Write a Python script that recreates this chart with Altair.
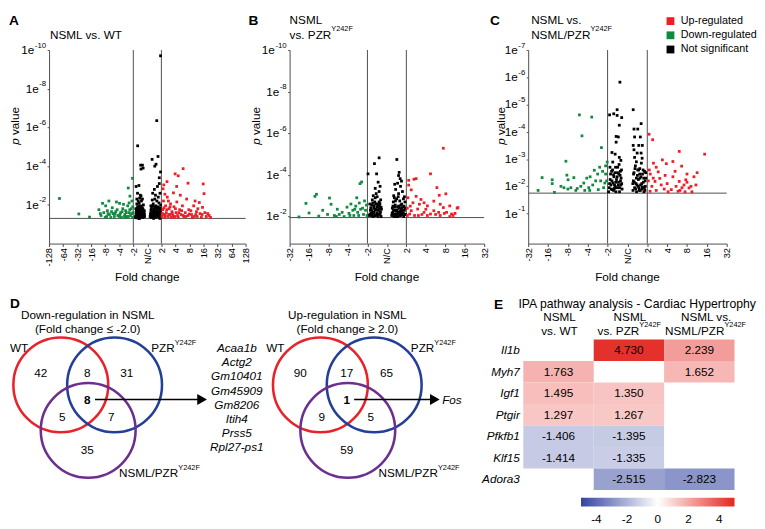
import altair as alt
import pandas as pd

FONT = "Liberation Sans"
RED, GREEN, BLACK, LINE = "#ec1f26", "#108a3f", "#000000", "#4d4d4d"
CATS = ["Up-regulated", "Down-regulated", "Not significant"]

# ---------------- volcano data: (log2 fold change, -log10 p) ----------------
A_down = [(-6.26,2.33),(-4.88,1.53),(-4.12,1.37),(-3.45,1.75),(-3.3,1.45),(-3.19,2.08),(-3.1,1.6),(-2.97,1.95),
          (-2.9,1.4),(-2.85,1.7),(-2.74,2.2),(-2.7,1.5),(-2.6,1.35),(-2.5,1.85),(-2.45,1.55),(-2.35,1.4),(-2.25,1.65),
          (-2.2,2.15),(-2.1,1.45),(-1.98,2.08),(-1.9,1.6),(-1.85,1.35),(-1.75,1.8),(-1.7,2.03),(-1.6,1.5),(-1.55,1.7),
          (-1.45,1.4),(-1.4,1.95),(-1.36,2.87),(-1.3,1.6),(-1.24,2.45),(-1.2,1.45),(-1.15,1.8),(-1.1,2.2),(-1.06,3.37),
          (-1.05,1.35),(-1.02,1.6),(-1.3,2.1),(-1.5,1.35),(-2.0,1.4),
          (-3.35,1.55),(-3.0,1.35),(-2.8,1.55),(-2.55,1.65),(-2.3,1.55),(-2.15,1.75),(-1.95,1.5),(-1.8,1.65),
          (-1.65,1.4),(-1.5,1.6),(-1.35,1.4),(-1.25,1.75),(-1.12,1.55),(-1.04,1.9)]
A_ns = [(0.94,9.7),(0.67,6.35),(-0.69,5.05),(-0.48,4.05),(-0.35,4.05),(-0.45,3.85),(-0.3,3.9),(0.76,4.5),(0.34,4.35),
        (0.53,4.0),(0.62,4.1),(0.94,3.7),(0.85,3.4),(0.85,3.1),(0.72,2.95),(0.5,2.8),(0.38,2.6),(0.9,2.6),(-0.8,2.95),
        (-0.6,3.0),(-0.7,2.6),(-0.5,2.5),(-0.75,2.3),(-0.55,2.35),
        (-0.85,1.35),(-0.8,1.5),(-0.78,1.7),(-0.72,1.4),(-0.7,1.9),(-0.66,1.55),(-0.62,1.35),(-0.6,1.75),(-0.58,2.1),
        (-0.55,1.45),(-0.52,1.6),(-0.5,1.95),(-0.48,1.35),(-0.45,1.75),(-0.42,2.2),(-0.4,1.5),(-0.38,1.4),(-0.35,1.85),
        (-0.32,1.6),(-0.3,1.35),(-0.28,2.0),(-0.25,1.5),(-0.22,1.7),(-0.2,1.4),(-0.65,2.2),(-0.75,2.05),(-0.45,2.45),
        (-0.35,2.3),(-0.82,1.8),(-0.68,1.45),(-0.56,1.3),(-0.4,1.65),
        (-0.83,1.42),(-0.79,1.62),(-0.76,1.33),(-0.73,1.78),(-0.71,1.55),(-0.67,1.68),(-0.64,1.45),(-0.61,1.95),
        (-0.57,1.62),(-0.54,1.82),(-0.51,1.38),(-0.47,1.52),(-0.44,1.92),(-0.41,1.42),(-0.37,1.62),(-0.34,1.48),
        (-0.31,1.78),(-0.27,1.42),(-0.24,1.62),(-0.21,1.52),(-0.6,1.3),(-0.46,1.65),
        (0.2,1.4),(0.24,1.6),(0.27,1.35),(0.3,1.85),(0.33,1.5),(0.36,1.7),(0.4,1.35),(0.42,2.05),(0.45,1.55),(0.48,1.8),
        (0.5,1.4),(0.53,2.3),(0.56,1.6),(0.6,1.95),(0.62,1.35),(0.65,1.75),(0.68,2.2),(0.7,1.5),(0.73,1.4),(0.76,1.9),
        (0.8,1.6),(0.83,2.1),(0.86,1.35),(0.88,1.75),(0.92,1.5),(0.95,2.0),(0.97,1.4),(0.35,2.25),(0.58,2.5),(0.78,2.4),
        (0.45,1.3),(0.66,1.45),(0.9,1.3),(0.25,1.95),
        (0.22,1.5),(0.26,1.75),(0.29,1.42),(0.32,1.62),(0.35,1.38),(0.38,1.95),(0.41,1.58),(0.44,1.42),(0.47,1.68),
        (0.51,1.55),(0.54,1.9),(0.57,1.42),(0.61,1.65),(0.64,1.5),(0.67,1.85),(0.71,1.62),(0.74,1.78),(0.78,1.45),
        (0.81,1.82),(0.84,1.52),(0.87,1.62),(0.91,1.85),(0.94,1.62),(0.96,1.75)]
A_up = [(2.55,3.87),(1.98,3.6),(2.2,3.5),(1.4,3.2),(1.17,3.03),(2.9,3.12),(3.98,3.08),(4.04,2.58),(2.09,2.95),(1.86,2.62),
        (1.12,2.83),(3.7,2.12),(4.4,1.45),(3.0,1.53),(3.93,1.87),(1.05,1.4),(1.1,1.75),(1.15,2.2),(1.2,1.5),(1.25,1.35),
        (1.3,1.95),(1.35,1.6),(1.42,2.4),(1.48,1.4),(1.55,1.8),(1.6,1.5),(1.65,2.05),(1.7,1.35),(1.75,1.65),(1.82,1.45),
        (1.9,1.9),(1.95,1.4),(2.05,1.6),(2.1,2.15),(2.2,1.35),(2.3,1.75),(2.4,1.5),(2.5,1.95),(2.6,1.4),(2.7,1.6),
        (2.8,2.3),(2.9,1.45),(3.1,1.7),(3.2,1.35),(3.3,1.95),(3.45,1.5),(3.55,1.4),(3.6,1.8),(3.75,1.55),(3.85,1.35),
        (4.1,1.6),(4.2,1.4),(4.5,1.35),(1.25,2.55),(2.35,2.5),(1.5,2.2),(3.4,2.2),
        (1.08,1.55),(1.18,1.85),(1.28,1.45),(1.38,1.75),(1.52,1.5),(1.62,1.9),(1.78,1.55),(1.88,1.35),(2.0,1.8),
        (2.15,1.45),(2.25,1.6),(2.45,1.7),(2.55,1.45),(2.75,1.4),(2.95,1.75),(3.15,1.5),(3.35,1.4),(3.5,1.65),
        (3.9,1.5),(4.3,1.55)]

B_down = [(-4.52,1.98),(-4.16,2.63),(-4.0,2.17),(-3.7,2.97),(-3.62,3.07),(-3.3,2.3),(-3.05,2.1),(-2.95,2.89),(-2.87,2.59),
          (-2.7,2.05),(-2.55,2.35),(-2.45,2.1),(-2.3,2.2),(-2.2,2.0),(-2.05,2.45),(-1.95,2.15),(-1.85,2.6),(-1.75,2.3),
          (-1.7,2.05),(-1.6,2.5),(-1.55,2.9),(-1.5,2.2),(-1.42,2.65),(-1.38,3.58),(-1.3,3.66),(-1.25,2.4),(-1.2,2.1),
          (-1.15,2.75),(-1.1,2.3),(-1.05,2.55),(-1.02,2.05),(-1.45,2.05),(-1.9,2.05),(-2.6,2.0),(-3.5,2.02),(-1.35,2.35),
          (-1.65,2.35)]
B_ns = [(-0.4,4.82),(-0.64,4.54),(-0.97,4.05),(-0.53,4.05),(0.51,4.74),(0.63,4.12),(0.6,3.97),(0.68,3.82),(-0.45,3.65),
        (-0.6,3.35),(-0.4,3.2),(-0.7,3.0),(-0.5,2.95),(0.55,3.6),(0.7,3.45),(0.45,3.3),(0.8,3.2),(0.6,3.1),(0.35,3.0),
        (0.9,2.95),(-0.35,3.45),(-0.55,3.1),(0.75,3.7),(0.4,3.55),
        (-0.9,2.05),(-0.85,2.3),(-0.8,2.15),(-0.78,2.55),(-0.72,2.0),(-0.68,2.4),(-0.65,2.2),(-0.62,2.7),(-0.58,2.05),
        (-0.55,2.35),(-0.5,2.15),(-0.48,2.6),(-0.45,2.0),(-0.42,2.3),(-0.38,2.5),(-0.35,2.1),(-0.32,2.8),(-0.3,2.0),
        (-0.28,2.35),(-0.75,2.8),(-0.6,2.9),(-0.4,2.7),(-0.88,2.6),(-0.52,2.45),
        (-0.87,2.12),(-0.83,2.42),(-0.79,2.05),(-0.76,2.28),(-0.73,2.65),(-0.7,2.15),(-0.67,2.52),(-0.63,2.05),
        (-0.6,2.32),(-0.57,2.6),(-0.53,2.08),(-0.49,2.3),(-0.46,2.5),(-0.43,2.12),(-0.39,2.38),(-0.36,2.62),
        (-0.33,2.22),(-0.3,2.45),
        (0.25,2.05),(0.28,2.4),(0.3,2.2),(0.33,2.7),(0.36,2.0),(0.4,2.3),(0.43,2.55),(0.46,2.1),(0.5,2.85),(0.53,2.3),
        (0.56,2.0),(0.6,2.5),(0.63,2.15),(0.66,2.75),(0.7,2.05),(0.73,2.35),(0.76,2.6),(0.8,2.1),(0.83,2.45),(0.86,2.0),
        (0.9,2.3),(0.93,2.7),(0.96,2.1),(0.38,2.9),(0.58,2.95),(0.85,2.85),(0.48,2.0),(0.72,2.55),
        (0.27,2.15),(0.31,2.5),(0.34,2.3),(0.38,2.12),(0.41,2.45),(0.44,2.75),(0.48,2.25),(0.51,2.12),(0.55,2.45),
        (0.58,2.2),(0.62,2.4),(0.65,2.05),(0.69,2.25),(0.72,2.15),(0.75,2.42),(0.78,2.25),(0.82,2.3),(0.85,2.15),
        (0.88,2.5),(0.92,2.1),(0.95,2.4)]
B_up = [(2.9,5.28),(2.24,4.05),(1.39,3.79),(1.12,3.74),(1.12,3.51),(2.57,3.39),(3.03,3.09),(2.69,3.02),(1.5,3.82),
        (1.25,3.28),(1.5,2.97),(1.75,2.82),(1.34,2.66),(1.67,2.59),(1.91,2.66),(2.08,2.51),(2.41,2.74),(2.74,2.59),
        (3.23,2.51),(3.61,2.4),(2.9,2.43),(3.07,2.2),(2.66,2.2),(2.41,2.28),(2.24,2.12),(1.91,2.2),(1.58,2.36),(1.25,2.28),
        (1.17,2.12),(1.42,2.05),(2.08,2.05),(2.74,2.05),(3.23,2.0),(3.4,2.05),(3.65,2.43),(3.32,2.12),(1.05,2.4),(1.08,2.9),
        (1.2,2.5),(1.8,2.1),(2.0,2.35),(2.5,2.1),(2.95,2.15),(3.5,2.15),(1.62,2.05),(1.05,2.05)]

C_down = [(-2.42,4.62),(-1.8,4.54),(-2.29,3.85),(-1.31,3.42),(-3.1,2.92),(-4.3,2.32),(-3.79,2.24),(-3.79,2.1),(-4.5,1.85),
          (-3.68,1.78),(-3.05,2.41),(-2.99,2.24),(-1.67,2.59),(-1.02,2.89),(-1.88,2.35),(-2.7,2.32),(-3.35,2.0),(-2.53,1.92),
          (-1.47,1.88),(-1.14,2.12),(-3.2,1.95),(-3.0,1.9),(-2.85,1.95),(-2.6,1.85),(-2.35,2.0),(-2.2,2.12),(-2.05,2.3),
          (-1.95,1.95),(-1.75,2.05),(-1.6,2.2),(-1.5,2.45),(-1.35,2.2),(-1.25,2.55),(-1.1,2.45),(-1.2,1.95),(-1.05,2.2),
          (-2.15,1.85),(-1.9,1.85),(-1.4,2.7),(-1.1,2.75)]
C_ns = [(-0.38,5.82),(-0.9,4.62),(-0.69,4.66),(-0.52,4.81),(-0.52,4.6),(-0.29,4.52),(-0.41,4.24),(0.29,4.81),(0.69,4.3),
        (0.33,4.1),(0.52,4.1),(-0.57,3.83),(-0.46,3.81),(-0.57,3.62),(-0.78,3.24),(-0.62,3.18),(-0.41,3.06),(-0.33,2.95),
        (-0.74,2.89),(0.36,3.81),(0.65,3.81),(0.29,3.5),(0.57,3.5),(0.75,3.5),(0.33,3.34),(0.49,3.22),(0.69,3.22),
        (0.36,3.06),(0.74,3.03),
        (-0.95,1.8),(-0.9,2.1),(-0.85,2.45),(-0.82,1.9),(-0.78,2.2),(-0.75,2.6),(-0.7,1.85),(-0.68,2.35),(-0.65,2.05),
        (-0.6,2.7),(-0.58,1.8),(-0.55,2.25),(-0.5,2.5),(-0.48,1.95),(-0.45,2.15),(-0.42,2.8),(-0.4,1.8),(-0.37,2.4),
        (-0.33,2.05),(-0.3,2.6),(-0.27,1.9),(-0.88,2.7),(-0.62,2.0),(-0.35,2.2),
        (-0.92,1.95),(-0.87,2.25),(-0.83,2.05),(-0.8,2.55),(-0.77,1.88),(-0.73,2.12),(-0.7,2.42),(-0.66,1.92),
        (-0.63,2.5),(-0.59,2.15),(-0.56,1.95),(-0.52,2.35),(-0.49,2.7),(-0.46,2.05),(-0.43,2.45),(-0.39,1.95),
        (-0.36,2.55),(-0.32,2.3),(-0.29,2.1),
        (0.28,1.85),(0.3,2.2),(0.33,2.5),(0.36,1.95),(0.4,2.75),(0.43,2.1),(0.46,1.8),(0.5,2.4),(0.53,2.0),(0.56,2.6),
        (0.6,1.85),(0.63,2.3),(0.66,2.05),(0.7,2.85),(0.73,1.9),(0.76,2.45),(0.8,2.15),(0.83,1.8),(0.86,2.55),(0.9,2.0),
        (0.93,2.3),(0.45,2.9),(0.62,2.65),(0.88,1.85),
        (0.27,2.1),(0.31,2.45),(0.35,2.15),(0.38,2.65),(0.42,1.9),(0.45,2.3),(0.48,2.05),(0.52,2.6),(0.55,2.25),
        (0.58,1.95),(0.62,2.45),(0.65,1.85),(0.68,2.35),(0.72,2.1),(0.75,1.98),(0.79,2.6),(0.82,2.3),(0.85,1.95),
        (0.89,2.2),(0.92,2.5)]
C_up = [(1.09,3.91),(1.27,3.71),(2.61,3.28),(3.89,3.18),(1.76,2.97),(2.29,2.91),(1.31,2.85),(1.96,2.83),(2.73,2.74),
        (1.55,2.53),(1.63,2.29),(1.39,2.18),(1.23,2.0),(2.29,2.35),(2.94,2.24),(3.35,2.35),(3.51,2.5),(2.61,2.18),
        (2.45,2.0),(3.1,1.94),(2.21,1.88),(1.14,1.82),(1.05,2.2),(1.15,2.45),(1.45,1.85),(1.7,2.05),(1.85,1.9),(2.0,2.1),
        (2.75,1.95),(2.85,2.05),(3.0,2.15),(3.2,2.0),(3.25,1.8),(3.45,2.05),(2.55,1.82),(2.05,1.8),(1.3,2.3),(1.9,2.4),
        (2.4,2.55),(3.0,2.45),(1.1,2.6),(1.45,2.7),(2.65,1.85),(2.9,1.8)]

SIG_LINE = {"A": 1.3, "B": 1.95, "C": 1.75}

# ---------------- Venn data ----------------
DOWN_COUNTS = [42, 8, 31, 8, 5, 7, 35]     # WT, WT&PZR, PZR, all, WT&NP, PZR&NP, NP
UP_COUNTS = [90, 17, 65, 1, 9, 5, 59]
COMMON_DOWN = ["Acaa1b", "Actg2", "Gm10401", "Gm45909", "Gm8206", "Itih4", "Prss5", "Rpl27-ps1"]
COMMON_UP = ["Fos"]

# ---------------- heatmap data ----------------
GENES = ["Il1b", "Myh7", "Igf1", "Ptgir", "Pfkfb1", "Klf15", "Adora3"]
COMPS = ["NSML vs. WT", "NSML vs. PZR", "NSML vs. NSML/PZR"]
VALS = [[None, 4.730, 2.239],
        [1.763, None, 1.652],
        [1.495, 1.350, None],
        [1.297, 1.267, None],
        [-1.406, -1.395, None],
        [-1.414, -1.335, None],
        [None, -2.515, -2.823]]

# ---------------- helpers ----------------
AW = {' ': .278, '.': .278, '/': .278, '-': .333, '(': .333, ')': .333,
      'A': .667, 'B': .667, 'C': .722, 'D': .722, 'E': .667, 'F': .611, 'G': .778, 'H': .722, 'I': .278,
      'L': .556, 'M': .833, 'N': .722, 'P': .667, 'R': .722, 'S': .667, 'T': .611, 'W': .944, 'Y': .667, 'Z': .611,
      'a': .556, 'b': .556, 'c': .5, 'd': .556, 'e': .556, 'f': .278, 'g': .556, 'h': .556, 'i': .222, 'l': .222,
      'm': .833, 'n': .556, 'o': .556, 'p': .556, 'r': .333, 's': .5, 't': .278, 'u': .556, 'v': .5, 'w': .722, 'y': .5}


def tw(s, size=12):
    return sum(AW.get(c, 0.556) for c in s) * size


def T(text, x, y, size=12, weight="normal", style="normal", align="left", angle=0):
    return alt.Chart(pd.DataFrame({"t": [text]})).mark_text(
        align=align, baseline="middle", fontSize=size, fontWeight=weight, fontStyle=style,
        angle=angle, font=FONT, color="black").encode(x=alt.value(x), y=alt.value(y), text="t:N")


XLAB = "datum.value == 0 ? 'N/C' : (datum.value < 0 ? '-' : '') + pow(2, abs(datum.value))"


def ytick_layers(ticks, Y):
    sups = ["-" + str(t) for t in ticks]
    layers = [alt.Chart(pd.DataFrame({"nlp": ticks, "s": sups})).mark_text(
        align="right", baseline="middle", fontSize=8, dy=-4.5, font=FONT, color="black").encode(
        x=alt.value(-3), y=Y, text="s:N")]
    widths = sorted(set(round(tw(s, 8), 1) for s in sups))
    for w in widths:
        sub = [t for t, s in zip(ticks, sups) if round(tw(s, 8), 1) == w]
        layers.append(alt.Chart(pd.DataFrame({"nlp": sub, "b": ["1e"] * len(sub)})).mark_text(
            align="right", baseline="middle", fontSize=12, font=FONT, color="black").encode(
            x=alt.value(-3.5 - w), y=Y, text="b:N"))
    return layers


def volcano(down, ns, up, W, H, xmax, ydom, yticks, thr, annos, legend=None):
    df = pd.DataFrame([(x, y, "Down-regulated") for x, y in down] +
                      [(x, y, "Not significant") for x, y in ns] +
                      [(x, y, "Up-regulated") for x, y in up], columns=["lfc", "nlp", "cat"])
    X = alt.X("lfc:Q", scale=alt.Scale(domain=[-xmax, xmax], nice=False, zero=False),
              axis=alt.Axis(values=list(range(-xmax, xmax + 1)), labelExpr=XLAB, labelAngle=270,
                            labelAlign="right", labelBaseline="middle", labelFontSize=9.5, labelPadding=1,
                            labelFlush=False, labelOverlap=False, tickSize=3, tickColor=LINE,
                            domainColor=LINE, grid=False, title=None, labelColor="black", labelFont=FONT))
    Y = alt.Y("nlp:Q", scale=alt.Scale(domain=ydom, nice=False, zero=False),
              axis=alt.Axis(values=yticks, labels=False, tickSize=2, tickColor=LINE,
                            domainColor=LINE, grid=False, title=None))
    pts = alt.Chart(df).mark_square(size=8, opacity=1).encode(
        x=X, y=Y, color=alt.Color("cat:N", scale=alt.Scale(domain=CATS, range=[RED, GREEN, BLACK]), legend=legend))
    vr = alt.Chart(pd.DataFrame({"lfc": [-1, 1]})).mark_rule(color=LINE, strokeWidth=1).encode(x=X)
    hr = alt.Chart(pd.DataFrame({"nlp": [thr]})).mark_rule(color=LINE, strokeWidth=1).encode(y=Y)
    return alt.layer(vr, hr, pts, *ytick_layers(yticks, Y), *annos).properties(width=W, height=H)


def common_annos(letter, lx, pvx, W, H):
    py = 98 * H / 200
    return [T(letter, lx, -29.5, size=14, weight="bold"),
            T("p", pvx, py, style="italic", angle=270),
            T("value", pvx, py - tw("p "), angle=270),
            T("Fold change", W / 2, H + 34, align="center")]


H = 198
WA, WB, WC = 201, 199, 203

A = volcano(A_down, A_ns, A_up, WA, H, 7, [0, 10], [2, 4, 6, 8, 10], SIG_LINE["A"],
            common_annos("A", -41, -34.7, WA, H) + [T("NSML vs. WT", 1, -15)])
B = volcano(B_down, B_ns, B_up, WB, H, 5, [0.7, 10], [2, 4, 6, 8, 10], SIG_LINE["B"],
            common_annos("B", -42, -34, WB, H) +
            [T("NSML", 0, -30.5), T("vs. PZR", 0, -15.5), T("Y242F", tw("vs. PZR"), -21, size=7.5)])
legendC = alt.Legend(orient="none", legendX=140, legendY=-35, title=None, symbolType="square", symbolSize=64,
                     labelFontSize=11, labelFont=FONT, rowPadding=2.5, padding=0, labelOffset=5,
                     symbolStrokeWidth=0, symbolOpacity=1)
C = volcano(C_down, C_ns, C_up, WC, H, 5, [-0.1, 7], [1, 2, 3, 4, 5, 6, 7], SIG_LINE["C"],
            common_annos("C", -39, -28, WC, H) +
            [T("NSML vs.", 3, -30.5), T("NSML/PZR", 3, -15.5), T("Y242F", 3 + tw("NSML/PZR"), -21, size=7.5)],
            legend=legendC)

top = alt.hconcat(A, B, C, spacing=45, bounds="flush").resolve_scale(
    x="independent", y="independent", color="independent")

# ---------------- panel D (Venn canvas, figure coordinates) ----------------
WD, HH = 455, 154
DX0, DY0 = 42, 338
xD = alt.X("x:Q", scale=alt.Scale(domain=[DX0, DX0 + WD], nice=False, zero=False), axis=None)
yD = alt.Y("y:Q", scale=alt.Scale(domain=[DY0, DY0 + HH], nice=False, zero=False, reverse=True), axis=None)

VENN_CX = [81.5, 347]
GENE_LIST_X = 234
CIRCLES = [(-27.5, 384.5, "#e8222a"), (27.5, 384.5, "#233f97"), (0.5, 431, "#6b2f8f")]
REGION_POS = [(-48, 372), (-0.5, 372), (40, 372), (-0.5, 400), (-26, 417), (24, 417), (-0.5, 451)]

circ_df = pd.DataFrame([dict(x=cx + dx, y=y, c=c) for cx in VENN_CX for dx, y, c in CIRCLES])
circles = alt.Chart(circ_df).mark_point(shape="circle", filled=False, size=97 * 97, strokeWidth=2.6,
                                        opacity=1).encode(x=xD, y=yD, color=alt.Color("c:N", scale=None))

arrow_df = pd.DataFrame([dict(x=VENN_CX[0] + 7.5, x2=GENE_LIST_X - 38, y=399.5),
                         dict(x=VENN_CX[1] + 7, x2=VENN_CX[1] + 88, y=399.5)])
arrows = alt.Chart(arrow_df).mark_rule(color="black", strokeWidth=1.6).encode(x=xD, x2="x2:Q", y=yD)
head_df = pd.DataFrame([dict(x=GENE_LIST_X - 35.5, y=399.5), dict(x=VENN_CX[1] + 89.5, y=399.5)])
heads = alt.Chart(head_df).mark_point(shape="triangle-right", filled=True, size=130, color="black",
                                      opacity=1).encode(x=xD, y=yD)

rows = []


def add(x, y, t, s):
    rows.append(dict(x=x, y=y, t=t, s=s))


add(2, 301.5, "D", "L")
add(497, 302.5, "E", "L")
for cx, counts, t1, t2 in [(VENN_CX[0], DOWN_COUNTS, "Down-regulation in NSML", "(Fold change \u2264 -2.0)"),
                           (VENN_CX[1], UP_COUNTS, "Up-regulation in NSML", "(Fold change \u2265 2.0)")]:
    add(cx, 313, t1, "n")
    add(cx, 327, t2, "n")
    for i, ((dx, y), n) in enumerate(zip(REGION_POS, counts)):
        add(cx + dx, y, str(n), "nb" if i == 3 else "n")
    add(max(cx - 83, 2), 347, "WT", "l")
    add(cx + 65, 347, "PZR", "l")
    add(cx + 65 + tw("PZR"), 341.5, "Y242F", "sup")
    add(cx + 32, 475, "NSML/PZR", "l")
    add(cx + 32 + tw("NSML/PZR"), 469.5, "Y242F", "sup")
for i, g in enumerate(COMMON_DOWN):
    add(GENE_LIST_X, 347 + 14.5 * i, g, "ic")
add(VENN_CX[1] + 97, 400, COMMON_UP[0], "il")
add(522, 302, "IPA pathway analysis - Cardiac Hypertrophy", "lt")
add(564, 315, "NSML", "n")
add(564, 329, "vs. WT", "n")
add(636, 315, "NSML", "n")
add(603, 329, "vs. PZR", "l")
add(603 + tw("vs. PZR"), 323.5, "Y242F", "sup")
add(714, 315, "NSML vs.", "n")
add(672, 329, "NSML/PZR", "l")
add(672 + tw("NSML/PZR"), 323.5, "Y242F", "sup")

STY = {"n": dict(fontSize=12, align="center"),
       "nb": dict(fontSize=12, align="center", fontWeight="bold"),
       "l": dict(fontSize=12, align="left"),
       "lt": dict(fontSize=12.5, align="left"),
       "sup": dict(fontSize=7.5, align="left"),
       "ic": dict(fontSize=12, align="center", fontStyle="italic"),
       "il": dict(fontSize=12, align="left", fontStyle="italic"),
       "L": dict(fontSize=14, align="left", fontWeight="bold")}
tdf = pd.DataFrame(rows)
text_layers = []
for key, sty in STY.items():
    sub = tdf[tdf.s == key]
    if len(sub):
        text_layers.append(alt.Chart(sub).mark_text(baseline="middle", font=FONT, color="black", **sty)
                           .encode(x=xD, y=yD, text="t:N"))

D = alt.layer(circles, arrows, heads, *text_layers).properties(width=WD, height=HH)

# ---------------- panel E heatmap ----------------
hrows = [dict(gene=g, comp=c, val=v, lab=f"{v:.3f}") for g, vals in zip(GENES, VALS)
         for c, v in zip(COMPS, vals) if v is not None]
heat = pd.DataFrame(hrows)
hbase = alt.Chart(heat).encode(
    x=alt.X("comp:N", sort=COMPS, scale=alt.Scale(paddingInner=0, paddingOuter=0), axis=None),
    y=alt.Y("gene:N", sort=GENES, scale=alt.Scale(paddingInner=0, paddingOuter=0),
            axis=alt.Axis(title=None, labelFontStyle="italic", labelFontSize=12, labelFont=FONT, ticks=False,
                          domain=False, labelPadding=4, labelColor="black")))
rects = hbase.mark_rect().encode(
    color=alt.Color("val:Q", scale=alt.Scale(domain=[-5, 0, 5], range=["#34449f", "#ffffff", "#e4251f"],
                                             interpolate="rgb"),
                    legend=alt.Legend(orient="none", legendX=59, legendY=162, direction="horizontal",
                                      gradientLength=157, gradientThickness=9, values=[-4, -2, 0, 2, 4],
                                      labelExpr="(datum.value < 0 ? '-' : '') + abs(datum.value)",
                                      title=None, labelFontSize=12, labelFont=FONT, labelOffset=8, padding=0,
                                      gradientStrokeWidth=0, labelColor="black")))
vals_txt = hbase.mark_text(fontSize=12, font=FONT, color="black").encode(text="lab:N")
E = alt.layer(rects, vals_txt).properties(width=216, height=HH)

bottom = alt.hconcat(D, E, spacing=30, bounds="flush").resolve_scale(
    x="independent", y="independent", color="independent")

chart = alt.vconcat(top, bottom, spacing=14).resolve_scale(color="independent").configure(
    font=FONT, view=alt.ViewConfig(stroke=None)).properties(padding=0)

chart.save("out.html", embed_options={"renderer": "svg", "actions": False})
